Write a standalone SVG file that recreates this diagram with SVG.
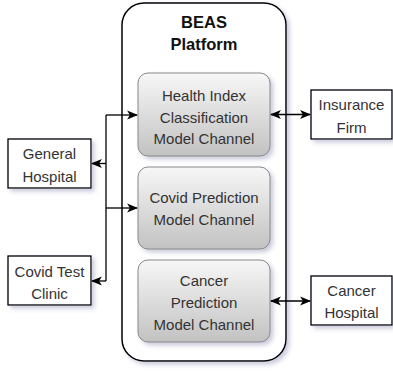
<svg xmlns="http://www.w3.org/2000/svg" width="393" height="371" viewBox="0 0 393 371">
<defs>
<linearGradient id="g" x1="0" y1="0" x2="0" y2="1">
<stop offset="0" stop-color="#f7f7f7"/>
<stop offset="1" stop-color="#c2c2c2"/>
</linearGradient>
<filter id="sh" x="-20%" y="-20%" width="150%" height="150%">
<feDropShadow dx="3" dy="3" stdDeviation="2" flood-color="#7070a0" flood-opacity="0.35"/>
</filter>
<marker id="ah" viewBox="0 0 10 10" refX="9" refY="5" markerWidth="11" markerHeight="11" markerUnits="userSpaceOnUse" orient="auto-start-reverse">
<path d="M0,0.8 L10,5 L0,9.2 L2.5,5 Z" fill="#000"/>
</marker>
</defs>
<style>
.box{fill:#fff;stroke:#000;stroke-width:1.3}
.ch{fill:url(#g);stroke:#888;stroke-width:1}
.t{font-family:"Liberation Sans",Arial,sans-serif;font-size:15px;fill:#333;text-anchor:middle;dominant-baseline:central}
.b{font-weight:bold;fill:#111;font-size:16.5px}
.c{fill:none;stroke:#000;stroke-width:1.3}
</style>
<g id="platform">
<rect x="122" y="3" width="164" height="358" rx="22" fill="#fff" stroke="#000" stroke-width="1.5" filter="url(#sh)"/>
<text class="t b" x="204" y="22">BEAS</text>
<text class="t b" x="204" y="44">Platform</text>
</g>
<g id="health">
<rect class="ch" x="138" y="73" width="132" height="83" rx="10" filter="url(#sh)"/>
<text class="t" x="204" y="95">Health Index</text>
<text class="t" x="204" y="117">Classification</text>
<text class="t" x="204" y="138">Model Channel</text>
</g>
<g id="covid">
<rect class="ch" x="138" y="167" width="132" height="82" rx="10" filter="url(#sh)"/>
<text class="t" x="204" y="197">Covid Prediction</text>
<text class="t" x="204" y="219">Model Channel</text>
</g>
<g id="cancer">
<rect class="ch" x="138" y="260" width="132" height="82" rx="10" filter="url(#sh)"/>
<text class="t" x="204" y="280">Cancer</text>
<text class="t" x="204" y="302">Prediction</text>
<text class="t" x="204" y="324">Model Channel</text>
</g>
<g id="general">
<rect class="box" x="8" y="139" width="83" height="49" filter="url(#sh)"/>
<text class="t" x="49.5" y="153">General</text>
<text class="t" x="49.5" y="176">Hospital</text>
</g>
<g id="clinic">
<rect class="box" x="8" y="256" width="83" height="49" filter="url(#sh)"/>
<text class="t" x="49.5" y="271">Covid Test</text>
<text class="t" x="49.5" y="293">Clinic</text>
</g>
<g id="insurance">
<rect class="box" x="311" y="90" width="81" height="49" filter="url(#sh)"/>
<text class="t" x="351.5" y="104">Insurance</text>
<text class="t" x="351.5" y="127">Firm</text>
</g>
<g id="cancerhospital">
<rect class="box" x="311" y="276" width="81" height="49" filter="url(#sh)"/>
<text class="t" x="351.5" y="290">Cancer</text>
<text class="t" x="351.5" y="312">Hospital</text>
</g>
<g id="connectors">
<path class="c" d="M106,115 V281"/>
<path class="c" d="M106,115 H137" marker-end="url(#ah)"/>
<path class="c" d="M106,208 H137" marker-end="url(#ah)"/>
<path class="c" d="M106,163.5 H92" marker-end="url(#ah)"/>
<path class="c" d="M106,281 H92" marker-end="url(#ah)"/>
<path class="c" d="M271,114.5 H310" marker-start="url(#ah)" marker-end="url(#ah)"/>
<path class="c" d="M271,301 H310" marker-start="url(#ah)" marker-end="url(#ah)"/>
</g>
</svg>
